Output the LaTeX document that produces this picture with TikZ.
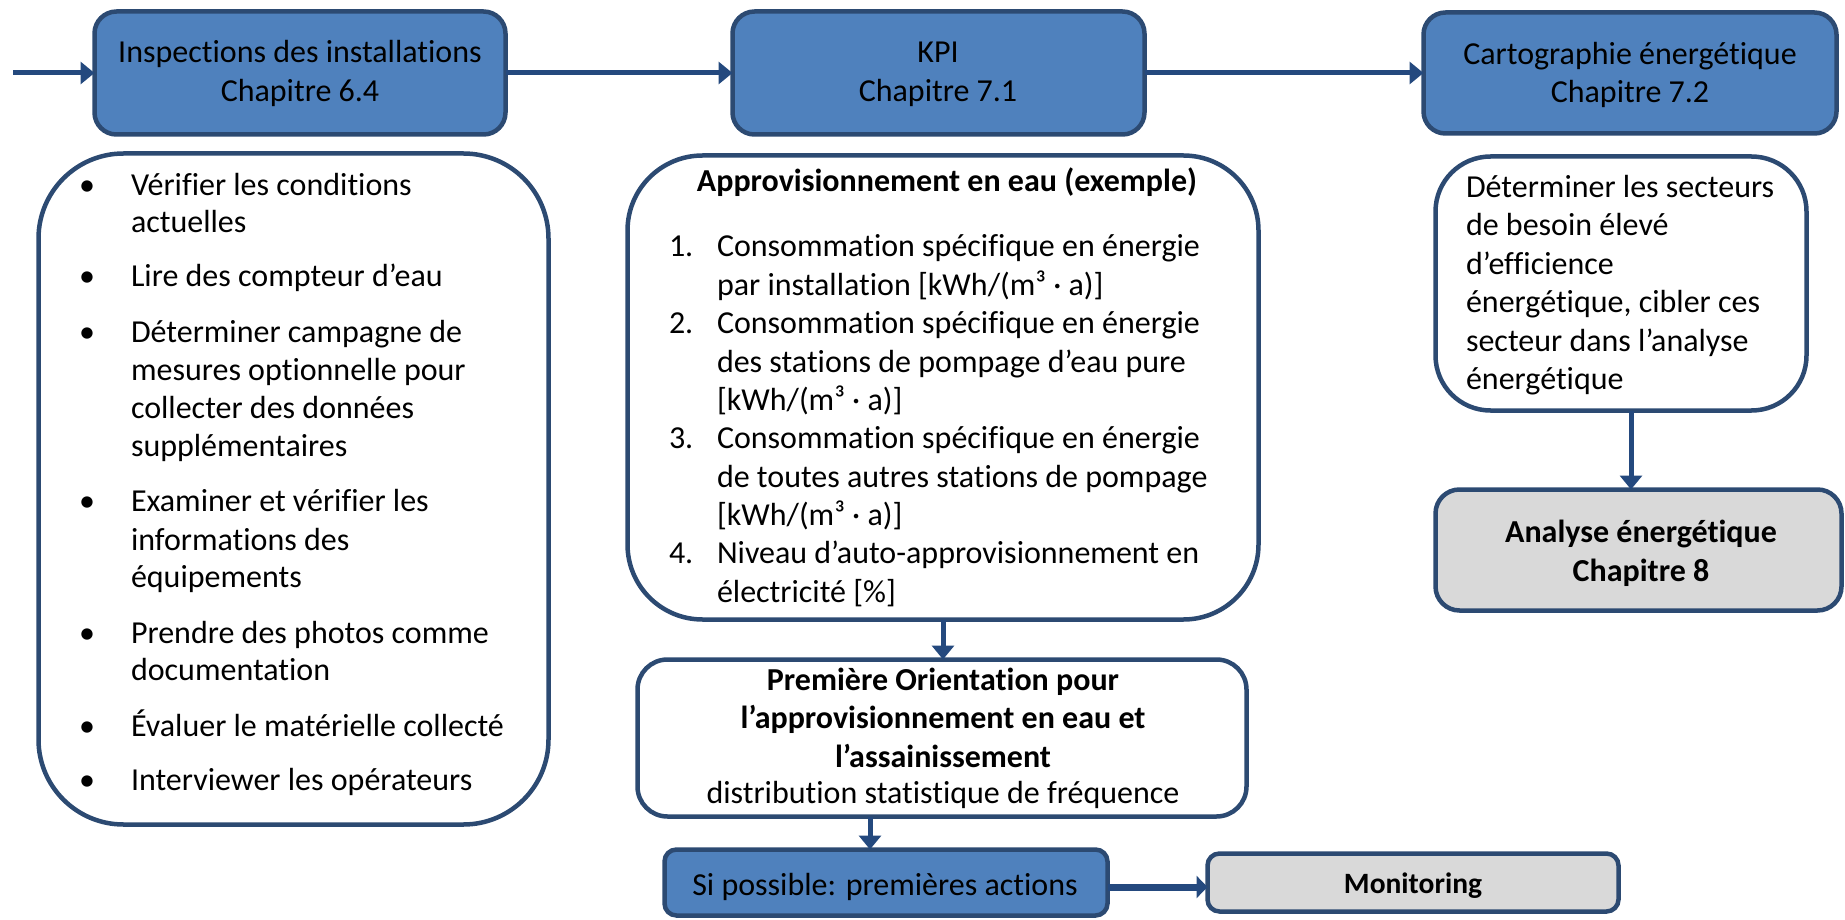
\documentclass[tikz,border=0pt]{standalone}
\usepackage{fontspec}
\setmainfont{Carlito}[Ligatures=NoCommon]
\usetikzlibrary{arrows.meta}
\definecolor{boxblue}{HTML}{4F81BD}
\definecolor{edgeblue}{HTML}{2C4A72}
\definecolor{arrowblue}{HTML}{24497E}
\definecolor{boxgray}{HTML}{D9D9D9}
\begin{document}
\begin{tikzpicture}[x=1pt,y=-1pt,
  every node/.style={inner sep=0pt,outer sep=0pt},
  boxbase/.style={draw=edgeblue,line width=4.5pt},
  titlebox/.style={boxbase,fill=boxblue,rounded corners=22pt},
  graybox/.style={boxbase,fill=boxgray,rounded corners=#1},
  whitebox/.style={boxbase,fill=white,rounded corners=#1},
  txt/.style={font=\fontsize{32}{38}\selectfont},
  btxt/.style={font=\fontsize{32}{38}\selectfont\bfseries},
  flow/.style={draw=arrowblue,line width=5pt,-{Triangle[length=14pt,width=22pt]}},
]
\useasboundingbox (0,0) rectangle (1845,920);

% boxes
\node[titlebox,minimum width=411,minimum height=123] (insp) at (300,73) {};
\node[titlebox,minimum width=412,minimum height=123] (kpi) at (938.5,73) {};
\node[titlebox,minimum width=413,minimum height=121] (carto) at (1630,73) {};
\node[whitebox=85pt,minimum width=510,minimum height=671] (list) at (293.5,489) {};
\node[whitebox=75pt,minimum width=631,minimum height=464] (kpil) at (943,387.5) {};
\node[whitebox=55pt,minimum width=371,minimum height=254] (det) at (1621,283.5) {};
\node[graybox=24pt,minimum width=406,minimum height=121] (ana) at (1638.5,550) {};
\node[whitebox=30pt,minimum width=609,minimum height=157] (prem) at (942,738) {};
\node[titlebox,rounded corners=12pt,minimum width=443,minimum height=66] (si) at (886,882.5) {};
\node[graybox=12pt,minimum width=411,minimum height=58] (mon) at (1413,882.5) {};

% connectors
\coordinate (start) at (13,73);
\draw[flow] (start) -- (insp.west);
\draw[flow] (insp.east) -- (kpi.west);
\draw[flow] (kpi.east) -- (carto.west);
\draw[flow] ([xshift=10pt]det.south) -- ([xshift=10pt]det.south |- ana.north);
\draw[flow] (kpil.south) -- (kpil.south |- prem.north);
\draw[flow] ([xshift=-16pt]si.north |- prem.south) -- ([xshift=-16pt]si.north);
\draw[flow,line width=7pt,-{Triangle[length=11pt,width=22pt]}] (si.east |- 0,887) -- (mon.west |- 0,887);

% title texts
\node[txt,anchor=base] at (300,63) {Inspections des installations};
\node[txt,anchor=base] at (300,102) {Chapitre 6.4};
\node[txt,anchor=base] at (938,63) {KPI};
\node[txt,anchor=base] at (938,102) {Chapitre 7.1};
\node[txt,anchor=base] at (1630,65) {Cartographie énergétique};
\node[txt,anchor=base] at (1630,103) {Chapitre 7.2};

% left list
\foreach \yy/\tt in {196/{Vérifier les conditions},233/{actuelles},287/{Lire des compteur d’eau},
  342/{Déterminer campagne de},380/{mesures optionnelle pour},418/{collecter des données},
  456/{supplémentaires},511/{Examiner et vérifier les},550/{informations des},587/{équipements},
  643/{Prendre des photos comme},680/{documentation},736/{Évaluer le matérielle collecté},
  790/{Interviewer les opérateurs}}
  \node[txt,anchor=base west] at (131,\yy) {\tt};
\foreach \yy in {196,287,342,511,643,736,790}
  \node[txt,anchor=base] at (87,\yy) {•};

% KPI list
\node[btxt,anchor=base] at (947,192) {Approvisionnement en eau (exemple)};
\foreach \yy/\tt in {257/{Consommation spécifique en énergie},295/{par installation [kWh/(m³ · a)]},
  333/{Consommation spécifique en énergie},372/{des stations de pompage d’eau pure},
  410/{[kWh/(m³ · a)]},448/{Consommation spécifique en énergie},
  487/{de toutes autres stations de pompage},525/{[kWh/(m³ · a)]},
  563/{Niveau d’auto-approvisionnement en},602/{électricité [\%]}}
  \node[txt,anchor=base west] at (717,\yy) {\tt};
\foreach \yy/\nn in {257/1,333/2,448/3,563/4}
  \node[txt,anchor=base west] at (669,\yy) {\nn.};

% determiner
\foreach \yy/\tt in {198/{Déterminer les secteurs},236/{de besoin élevé},274/{d’efficience},
  312/{énergétique, cibler ces},351/{secteur dans l’analyse},389/{énergétique}}
  \node[txt,anchor=base west] at (1466,\yy) {\tt};

% analyse
\node[btxt,anchor=base] at (1641,542) {Analyse énergétique};
\node[btxt,anchor=base] at (1641,581) {Chapitre 8};

% premiere
\node[btxt,anchor=base] at (943,690) {Première Orientation pour};
\node[btxt,anchor=base] at (943,728) {l’approvisionnement en eau et};
\node[btxt,anchor=base] at (943,767) {l’assainissement};
\node[txt,anchor=base] at (943,803) {distribution statistique de fréquence};

% si / monitoring
\node[txt,anchor=base] at (885,895) {Si possible: premières actions};
\node[font=\fontsize{29.5}{34}\selectfont\bfseries,anchor=base] at (1413,893) {Monitoring};
\end{tikzpicture}
\end{document}
